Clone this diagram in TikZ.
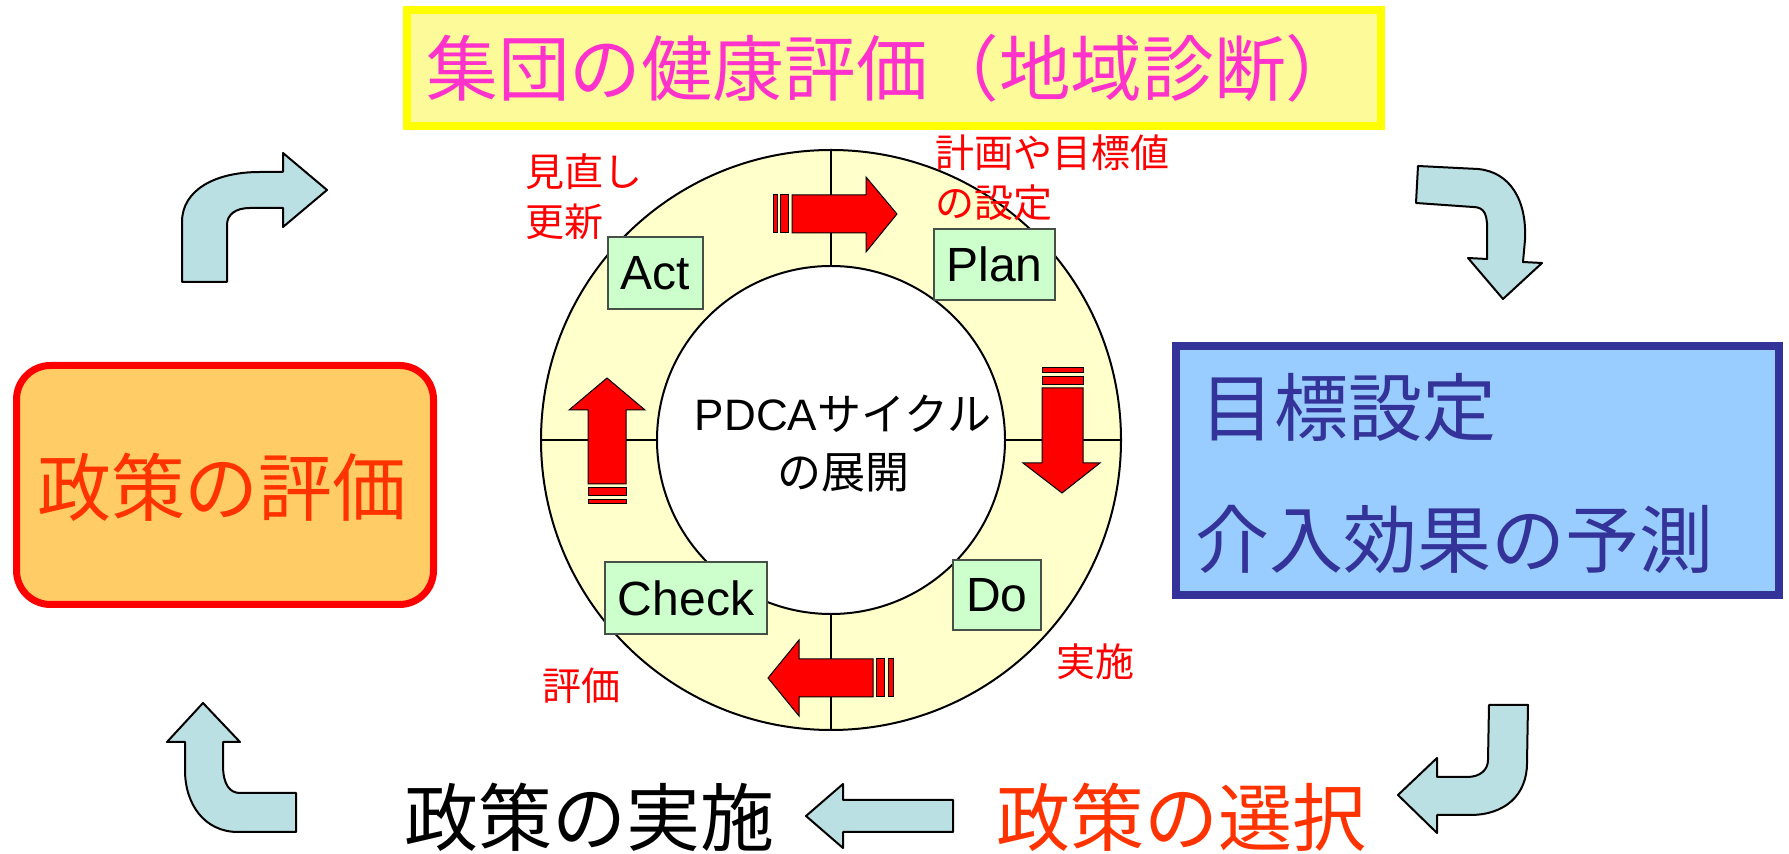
\documentclass[tikz,border=0pt]{standalone}
\usepackage{fontspec}
\setmainfont{Liberation Sans}
\newfontfamily\cjk{Noto Sans CJK JP}
\newfontfamily\cjkp[CharacterWidth=Proportional]{Noto Sans CJK JP}
\definecolor{arrowblue}{RGB}{187,224,227}
\definecolor{ringyellow}{RGB}{255,255,204}
\definecolor{topfill}{RGB}{253,251,153}
\definecolor{topborder}{RGB}{255,255,0}
\definecolor{magentatxt}{RGB}{255,51,204}
\definecolor{orangefill}{RGB}{255,204,102}
\definecolor{orangered}{RGB}{255,51,0}
\definecolor{navy}{RGB}{51,51,153}
\definecolor{skyfill}{RGB}{153,204,255}
\definecolor{pdcagreen}{RGB}{204,255,204}
\definecolor{boxgray}{RGB}{70,80,70}
\tikzset{
  bluearrow/.style={fill=arrowblue,draw=black,line width=1pt,line join=round},
  redarrow/.style={fill=red,draw=black,line width=0.5pt},
  pbox/.style={fill=pdcagreen,draw=boxgray,line width=0.6pt,inner sep=0pt,font=\fontsize{24}{28}\selectfont},
  redlabel/.style={text=red,font=\cjk\fontsize{19.5}{25}\selectfont,align=left,inner sep=0pt},
  bigtxt/.style={font=\cjk\fontsize{37}{44}\selectfont,inner sep=0pt},
}
\begin{document}
\begin{tikzpicture}[x=0.5pt,y=-0.5pt]
\useasboundingbox (0,0) rectangle (1789,854);
% top box
\draw[fill=topfill,draw=topborder,line width=4pt] (407,10) rectangle (1381,126);
\node[anchor=west,inner sep=0pt,text=magentatxt,font=\cjk\fontsize{35.8}{40}\selectfont] (top) at (426,68) {集団の健康評価（地域診断）};
% left box
\draw[fill=orangefill,draw=red,line width=3.5pt,rounded corners=17pt] (16.5,365.5) rectangle (433.5,604.5);
\node[bigtxt,text=orangered] (evalpol) at (222,487) {政策の評価};
% right box
\draw[fill=skyfill,draw=navy,line width=4pt] (1176,346) rectangle (1779,595);
\node[bigtxt,anchor=west,text=navy] (goal) at (1200,408) {目標設定};
\node[bigtxt,anchor=west,text=navy] (predict) at (1195,539) {介入効果の予測};
% bottom texts
\node[bigtxt,text=black] (impl) at (589,817) {政策の実施};
\node[bigtxt,text=orangered] (select) at (1181,817) {政策の選択};
% ring
\draw[fill=ringyellow,draw=black,line width=1pt] (831,440) circle[radius=145pt];
\draw[fill=white,draw=black,line width=1pt] (831,440) circle[radius=87pt];
\draw[line width=1pt] (541,440) -- (657,440);
\draw[line width=1pt] (1005,440) -- (1121,440);
\draw[line width=1pt] (831,150) -- (831,266);
\draw[line width=1pt] (831,614) -- (831,730);
% center text
\node[inner sep=0pt,align=center,font=\fontsize{22}{29}\selectfont] (pdca) at (843,444) {PDCA{\cjkp サイクル}\\{\cjk の展開}};
% PDCA boxes
\node[pbox,minimum width=47.5pt,minimum height=36pt] (act) at (655.5,273) {Act};
\node[pbox,minimum width=60.5pt,minimum height=35.5pt] (plan) at (994.5,264.5) {Plan};
\node[pbox,minimum width=81pt,minimum height=36pt] (check) at (686,598) {Check};
\node[pbox,minimum width=44pt,minimum height=35pt] (do) at (997,595) {Do};
% red labels
\node[redlabel,anchor=north west] (review) at (525,153) {見直し\\更新};
\node[redlabel,anchor=north west] (planlbl) at (935,134) {計画や目標値\\の設定};
\node[redlabel] (dolbl) at (1095,662) {実施};
\node[redlabel] (checklbl) at (581,686) {評価};
% red striped arrows
\draw[redarrow] (773,195) rectangle (777,233);
\draw[redarrow] (780,195) rectangle (788,233);
\draw[redarrow] (792,195) -- (866,195) -- (866,177) -- (897,214) -- (866,252) -- (866,233) -- (792,233) -- cycle;
\draw[redarrow] (1042,368) rectangle (1083,373);
\draw[redarrow] (1042,377) rectangle (1083,385);
\draw[redarrow] (1042,388) -- (1083,388) -- (1083,463) -- (1100,463) -- (1062,493) -- (1023,463) -- (1042,463) -- cycle;
\draw[redarrow] (893,659) rectangle (888,697);
\draw[redarrow] (884,659) rectangle (876,697);
\draw[redarrow] (873,659) -- (799,659) -- (799,640) -- (768,678) -- (799,716) -- (799,697) -- (873,697) -- cycle;
\draw[redarrow] (588,500) rectangle (626,504);
\draw[redarrow] (588,488) rectangle (626,496);
\draw[redarrow] (588,484) -- (588,410) -- (569,410) -- (607,378) -- (645,410) -- (626,410) -- (626,484) -- cycle;
% light blue arrows
\draw[bluearrow] (182,282) -- (182,222) .. controls (182,190) and (215,172) .. (260,172) -- (283,172) -- (283,153) -- (327,190) -- (283,227) -- (283,208) -- (250,208) .. controls (235,208) and (227,215) .. (227,225) -- (227,282) -- cycle;
\draw[bluearrow] (1418,166) -- (1478,169) .. controls (1510,172) and (1527,200) .. (1525,240) -- (1523,262) -- (1542,263) -- (1503,299) -- (1468,258) -- (1487,259) -- (1487,235) .. controls (1488,215) and (1485,207) .. (1473,207) -- (1416,203) -- cycle;
\draw[bluearrow] (296,793) -- (296,832) -- (238,832) .. controls (205,832) and (185,805) .. (185,770) -- (185,742) -- (167,742) -- (203,703) -- (240,742) -- (223,742) -- (223,765) .. controls (223,785) and (230,793) .. (240,793) -- cycle;
\draw[bluearrow] (1489,705) -- (1528,705) -- (1527,763) .. controls (1527,795) and (1505,815) .. (1470,815) -- (1437,815) -- (1437,833) -- (1398,795) -- (1437,758) -- (1437,777) -- (1467,777) .. controls (1480,777) and (1488,770) .. (1488,760) -- cycle;
\draw[bluearrow] (953,800) -- (953,832) -- (843,832) -- (843,848) -- (806,816) -- (843,784) -- (843,800) -- cycle;
\end{tikzpicture}
\end{document}
